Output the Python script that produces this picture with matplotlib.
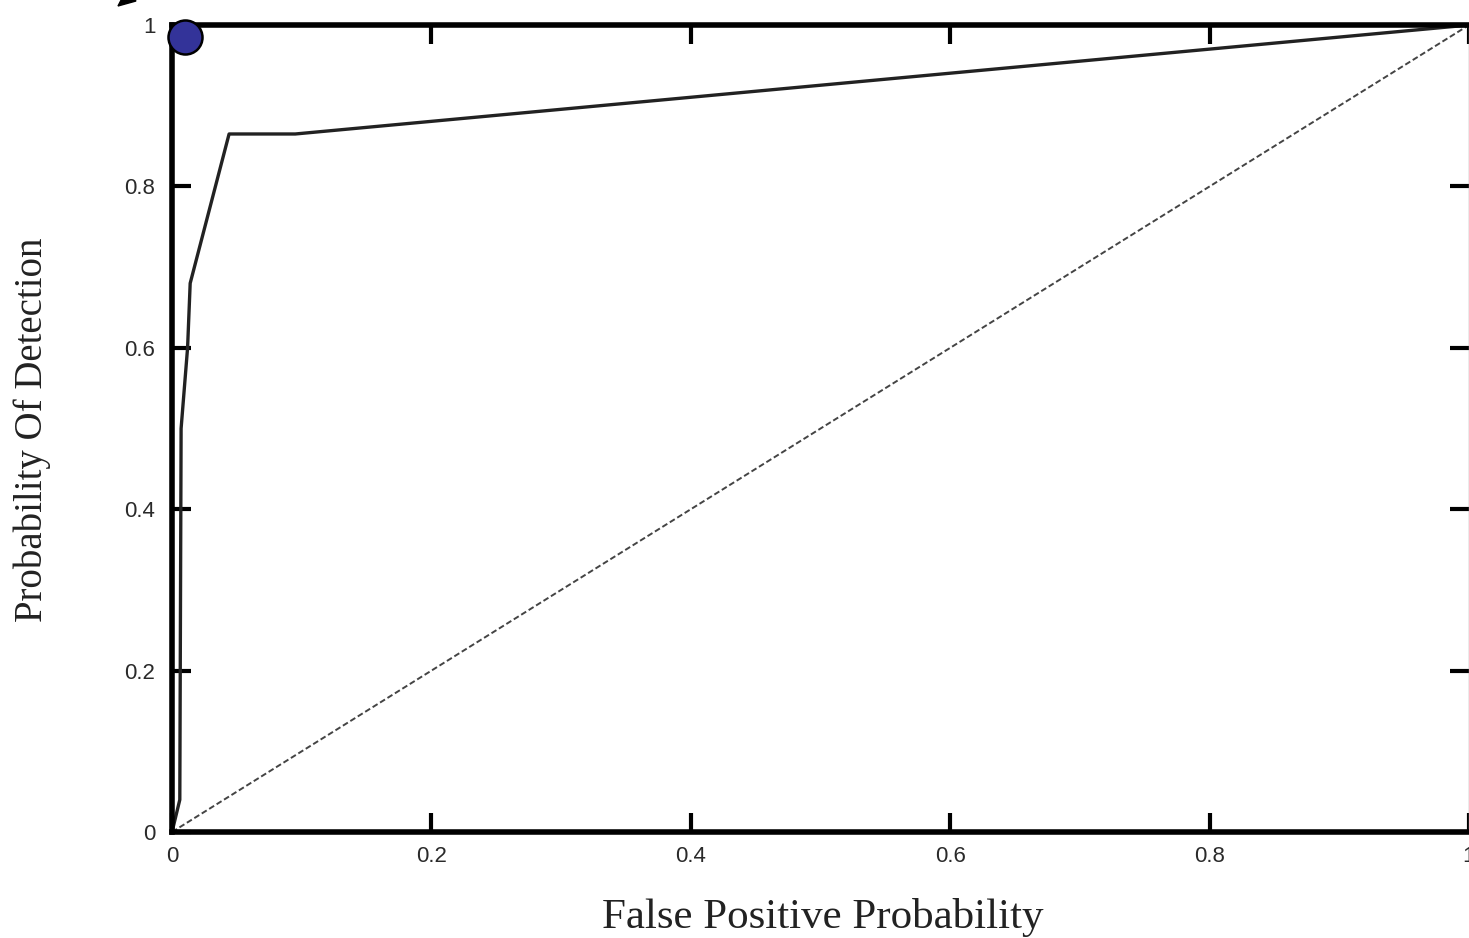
import matplotlib.pyplot as plt
from matplotlib.patches import Polygon

# ROC curve
fpr = [0.0, 0.006, 0.007, 0.012, 0.014, 0.044, 0.095, 1.0]
pod = [0.0, 0.04, 0.50, 0.60, 0.68, 0.865, 0.865, 1.0]

# chance line
chance_x = [0.0, 1.0]
chance_y = [0.0, 1.0]

# marked point
pt_x = [0.010]
pt_y = [0.985]

ticks = [0, 0.2, 0.4, 0.6, 0.8, 1]
tick_labels = ["0", "0.2", "0.4", "0.6", "0.8", "1"]

fig = plt.figure(figsize=(14.69, 9.38), dpi=100)
ax = fig.add_axes([0.1171, 0.113, 0.8829, 0.8603])

ax.plot(chance_x, chance_y, color="#444444", lw=1.4, ls=(0, (3, 1.5)))
ax.plot(fpr, pod, color="#222222", lw=2.4)
ax.plot(pt_x, pt_y, "o", ms=24.5, mfc="#333399", mec="black", mew=1.8, clip_on=False, zorder=5)

ax.set_xlim(0, 1)
ax.set_ylim(0, 1)
ax.set_xticks(ticks)
ax.set_xticklabels(tick_labels)
ax.set_yticks(ticks)
ax.set_yticklabels(tick_labels)
ax.tick_params(direction="in", length=14, width=3, top=True, right=True,
               labelsize=16, pad=12)
ax.tick_params(axis="x", pad=10)
for lbl in ax.get_xticklabels() + ax.get_yticklabels():
    lbl.set_fontfamily("Liberation Sans")
    lbl.set_color("#2a2a2a")

for side in ["left", "bottom", "top"]:
    ax.spines[side].set_linewidth(4)
ax.spines["right"].set_linewidth(1)
ax.spines["right"].set_color("#999999")

ax.set_xlabel("False Positive Probability", family="Liberation Serif",
              fontsize=31, color="#222222", va="baseline")
ax.set_ylabel("Probability Of Detection", family="Liberation Serif",
              fontsize=28, color="#222222")
ax.xaxis.set_label_coords(0.502, -0.119)
ax.yaxis.set_label_coords(-0.093, 0.498)

# arrowhead cut off at the top edge
fig.patches.append(Polygon([[118 / 1469, 1 - 6 / 938], [136 / 1469, 1 - 1 / 938],
                            [126 / 1469, 1.01]], closed=True, color="black",
                           transform=fig.transFigure, figure=fig))

fig.savefig("out.png", dpi=100)
